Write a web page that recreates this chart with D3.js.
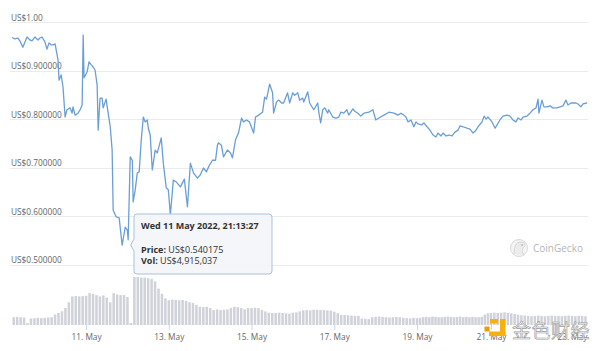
<!DOCTYPE html>
<html><head><meta charset="utf-8">
<script src="https://cdn.jsdelivr.net/npm/d3@7"></script>
<style>
html,body{margin:0;padding:0;background:#fff;}
svg{display:block;font-family:"Open Sans","Noto Sans",sans-serif;}
</style></head>
<body><svg id="chart" width="600" height="351"></svg>
<script>
// ---- data (hours since 2022-05-09 00:00 UTC) ----
const priceHours = [5.0,6.7,8.4,9.6,11.3,13.7,15.4,16.6,18.3,20.1,21.2,22.4,24.1,25.3,26.5,27.6,28.8,30.0,31.7,32.3,33.5,34.6,35.8,36.9,38.7,39.9,40.4,41.6,43.3,44.5,45.7,46.3,46.8,48.6,49.7,50.9,52.1,53.2,54.4,55.0,56.1,57.3,57.9,59.6,60.8,62.0,63.1,63.7,65.5,67.2,68.9,70.7,71.9,72.4,73.6,74.8,75.3,76.5,77.7,78.8,80.0,81.2,82.3,83.5,84.1,85.2,86.4,88.1,89.3,90.5,91.6,92.8,94.5,95.7,96.9,98.6,100.4,102.7,105.0,106.8,108.5,110.3,112.6,114.3,116.1,117.8,119.6,121.3,123.1,124.2,124.8,126.5,127.7,130.0,131.8,132.9,134.7,136.4,138.2,139.3,141.1,142.8,145.2,146.3,148.1,150.4,151.6,152.7,154.5,156.2,156.8,158.5,159.7,161.5,162.6,164.9,166.1,167.9,169.0,170.8,171.9,173.7,174.3,176.6,177.7,180.1,182.4,183.0,184.1,185.3,186.5,188.2,188.8,191.1,192.9,194.6,195.8,197.5,199.3,200.4,202.8,203.9,205.7,207.4,209.2,212.1,214.4,216.1,217.9,220.8,223.7,226.6,228.9,230.7,232.4,233.6,234.8,236.5,238.2,239.4,240.6,243.2,244.5,246.5,248.4,250.4,252.3,253.6,255.6,256.9,258.8,260.8,262.7,264.6,266.6,267.9,269.8,272.4,274.4,276.3,278.3,279.6,282.2,283.5,284.8,286.1,288.6,290.4,291.6,293.3,295.1,297.5,299.3,301.0,302.8,304.0,305.8,307.0,309.3,311.1,312.9,314.7,315.9,316.4,318.2,319.4,321.2,323.0,324.7,327.1,328.9,330.7,332.4,333.6,335.4,336.6,338.4,339.6,341.3,342.5,344.9];
const prices = [0.968,0.965,0.967,0.961,0.948,0.969,0.963,0.961,0.969,0.963,0.967,0.969,0.959,0.944,0.957,0.953,0.953,0.955,0.922,0.880,0.891,0.866,0.804,0.819,0.823,0.812,0.825,0.808,0.812,0.819,0.829,0.973,0.885,0.897,0.918,0.912,0.907,0.901,0.870,0.777,0.843,0.843,0.823,0.841,0.812,0.784,0.736,0.612,0.598,0.596,0.540,0.577,0.571,0.551,0.722,0.715,0.629,0.654,0.689,0.691,0.757,0.804,0.794,0.798,0.781,0.767,0.695,0.736,0.730,0.746,0.761,0.709,0.658,0.654,0.602,0.674,0.670,0.660,0.676,0.619,0.709,0.689,0.678,0.685,0.699,0.691,0.705,0.715,0.715,0.746,0.751,0.746,0.722,0.736,0.730,0.720,0.757,0.771,0.802,0.794,0.798,0.794,0.771,0.804,0.808,0.814,0.845,0.841,0.872,0.854,0.812,0.835,0.839,0.833,0.833,0.854,0.833,0.854,0.849,0.854,0.839,0.843,0.835,0.856,0.833,0.819,0.833,0.814,0.792,0.819,0.823,0.812,0.819,0.804,0.802,0.804,0.814,0.812,0.819,0.808,0.821,0.816,0.812,0.806,0.812,0.814,0.819,0.798,0.802,0.808,0.814,0.812,0.808,0.812,0.808,0.804,0.794,0.798,0.784,0.794,0.790,0.788,0.792,0.784,0.777,0.767,0.763,0.771,0.765,0.771,0.765,0.767,0.765,0.773,0.777,0.786,0.784,0.781,0.779,0.771,0.777,0.784,0.794,0.806,0.800,0.804,0.794,0.781,0.788,0.798,0.806,0.808,0.806,0.798,0.794,0.802,0.798,0.804,0.806,0.812,0.819,0.823,0.841,0.812,0.839,0.825,0.825,0.827,0.823,0.823,0.825,0.827,0.839,0.829,0.833,0.833,0.833,0.831,0.825,0.831,0.833];
// volume per 2-hour bucket, first bucket centred at hour 6 (US$ millions)
const volStartHour = 6;
const volumes = [1.2,1.25,1.2,1.15,0.3,1.0,1.05,1.1,1.05,1.1,
  1.15,1.2,1.6,1.85,2.1,2.6,3.5,4.4,4.45,4.4,
  4.45,4.5,4.9,4.8,4.6,4.4,4.55,4.2,3.5,4.9,
  4.7,4.6,4.6,4.3,0.3,7.4,7.4,7.3,7.3,7.2,
  7.1,6.7,5.6,4.8,4.1,3.8,3.9,3.85,3.8,3.85,
  3.7,3.5,3.4,3.1,2.8,2.75,2.8,2.6,2.3,2.4,
  2.3,2.35,2.4,2.6,2.8,2.75,2.6,2.4,2.6,2.6,
  2.65,2.6,2.3,2.1,1.9,1.85,1.85,1.9,1.85,1.8,
  1.75,1.9,1.95,2.1,2.25,2.3,2.25,2.35,2.35,2.3,
  2.3,2.25,2.2,2.05,1.8,1.55,1.55,1.5,1.45,1.4,
  1.4,1.0,0.95,0.9,1.2,1.25,1.3,1.25,1.2,1.15,
  1.2,1.25,1.2,1.1,1.05,1.0,1.1,1.05,1.1,1.2,
  1.25,1.2,1.3,1.25,1.2,1.2,1.25,1.3,1.25,1.2,
  1.25,1.3,1.2,1.25,1.2,1.25,1.2,1.2,1.25,1.6,
  1.8,1.85,1.9,1.85,1.9,1.95,1.85,1.8,1.7,1.6,
  1.5,1.45,1.4,1.35,1.4,1.45,1.4,1.35,1.4,1.45,
  1.4,1.4,1.35,1.4,1.45,1.4,1.35,1.4,1.4,1.35];
const yTicks = [0.5,0.6,0.7,0.8,0.9,1.0];
const yTickLabels = ["US$0.500000","US$0.600000","US$0.700000","US$0.800000","US$0.900000","US$1.00"];
const xTickDays = [11,13,15,17,19,21,23];
const tooltipTitle = "Wed 11 May 2022, 21:13:27";
const tooltipPoint = {hour: 69.2, price: 0.540175};
const tooltipPrice = "US$0.540175";
const tooltipVol = "US$4,915,037";

// ---- scales ----
const t0 = Date.UTC(2022,4,9);
const H = h => new Date(t0 + h*3600e3);
const svg = d3.select("#chart");
// ordinal-like (stock chart) axis: 19–21 May is slightly compressed
const x = d3.scaleUtc()
  .domain([H(priceHours[0]), H(240), H(288), H(priceHours[priceHours.length-1])])
  .range([12,417,491,587]);
const y = d3.scaleLinear().domain([0.5,1.0]).range([264.5,22]);
const yv = d3.scaleLinear().domain([0,8]).range([325,273]);

// gridlines + y labels
const g = svg.append("g");
g.selectAll("line.grid").data(yTicks).join("line")
  .attr("x1",10).attr("x2",588)
  .attr("y1",d=>Math.round(y(d))+0.5).attr("y2",d=>Math.round(y(d))+0.5)
  .attr("stroke","#ebebeb").attr("stroke-width",1);
g.selectAll("text.yl").data(yTicks).join("text")
  .attr("x",11).attr("y",d=>y(d)-1.5)
  .attr("font-size",8.3).attr("fill","#666")
  .text((d,i)=>yTickLabels[i]);

// volume bars
svg.append("g").selectAll("rect").data(volumes).join("rect")
  .attr("x",(d,i)=>x(H(volStartHour+2*i))-1.25)
  .attr("width",2.5)
  .attr("y",d=>yv(d)).attr("height",d=>325-yv(d))
  .attr("fill","#cfd2d9");

// x axis
const xAxis = d3.axisBottom(x)
  .tickValues(xTickDays.map(dd=>new Date(Date.UTC(2022,4,dd))))
  .tickFormat(d=>d3.utcFormat("%-d")(d)+". May")
  .tickSize(5).tickPadding(4);
const ax = svg.append("g").attr("transform","translate(0,325)").call(xAxis);
ax.select(".domain").remove();
ax.selectAll(".tick line").attr("stroke","#ccd6eb");
ax.selectAll(".tick text").attr("fill","#666").attr("font-size",8.3).attr("font-family","Open Sans");

// price line
const line = d3.line().x((d,i)=>x(H(priceHours[i]))).y(d=>y(d));
svg.append("path").datum(prices).attr("d",line)
  .attr("fill","none").attr("stroke","#6a9fd6").attr("stroke-width",1.3).attr("stroke-linejoin","round");

// CoinGecko watermark
const cg = svg.append("g").attr("opacity",0.55);
cg.append("circle").attr("cx",519).attr("cy",248).attr("r",8.5).attr("fill","#eee").attr("stroke","#bbb").attr("stroke-width",1);
cg.append("path").attr("d","M514,254 C514,246 516,242 521,242 C525,242 526,245 524,247 C522,249 522,251 524,256").attr("fill","#ddd").attr("stroke","#aaa").attr("stroke-width",0.8);
cg.append("circle").attr("cx",522).attr("cy",245).attr("r",1).attr("fill","#888");
cg.append("text").attr("x",533).attr("y",251.5).attr("font-size",10).attr("fill","#777").text("CoinGecko");

// tooltip
const px = x(H(tooltipPoint.hour)), py = y(tooltipPoint.price);
const tb = {x:134, y:214, w:138, h:60};
const tip = svg.append("g");
tip.append("path")
  .attr("d",`M${tb.x+3},${tb.y} H${tb.x+tb.w-3} Q${tb.x+tb.w},${tb.y} ${tb.x+tb.w},${tb.y+3} V${tb.y+tb.h-3} Q${tb.x+tb.w},${tb.y+tb.h} ${tb.x+tb.w-3},${tb.y+tb.h} H${tb.x+3} Q${tb.x},${tb.y+tb.h} ${tb.x},${tb.y+tb.h-3} V${py+6} L${px+8},${py} L${tb.x},${py-6} V${tb.y+3} Q${tb.x},${tb.y} ${tb.x+3},${tb.y} Z`)
  .attr("fill","#f4f6f9").attr("fill-opacity",0.95).attr("stroke","#a9c1da").attr("stroke-width",1);
tip.append("text").attr("x",141).attr("y",229).attr("font-size",9).attr("font-weight","bold").attr("fill","#333").text(tooltipTitle);
const t1 = tip.append("text").attr("x",141).attr("y",252.5).attr("font-size",9).attr("fill","#333");
t1.append("tspan").attr("font-weight","bold").text("Price: ");
t1.append("tspan").text(tooltipPrice);
const t2 = tip.append("text").attr("x",141).attr("y",264).attr("font-size",9).attr("fill","#333");
t2.append("tspan").attr("font-weight","bold").text("Vol: ");
t2.append("tspan").text(tooltipVol);

// 金色财经 watermark
const wm = svg.append("g");
wm.append("rect").attr("x",490).attr("y",319).attr("width",8).attr("height",4.5).attr("fill","#f6b10f");
wm.append("rect").attr("x",500).attr("y",319).attr("width",5.5).attr("height",17).attr("fill","#f6b10f");
wm.append("rect").attr("x",489).attr("y",331.5).attr("width",16.5).attr("height",4.5).attr("fill","#f6b10f");
wm.append("rect").attr("x",484.5).attr("y",326.5).attr("width",5).attr("height",5).attr("fill","#f29a00");
wm.append("text").attr("x",512).attr("y",337.5).attr("font-size",19)
  .attr("font-family","Noto Sans CJK SC").attr("fill","#f2f2f2").attr("stroke","#9a9a9a").attr("stroke-width",0.6)
  .attr("letter-spacing",0.5).text("金色财经");
</script></body></html>
